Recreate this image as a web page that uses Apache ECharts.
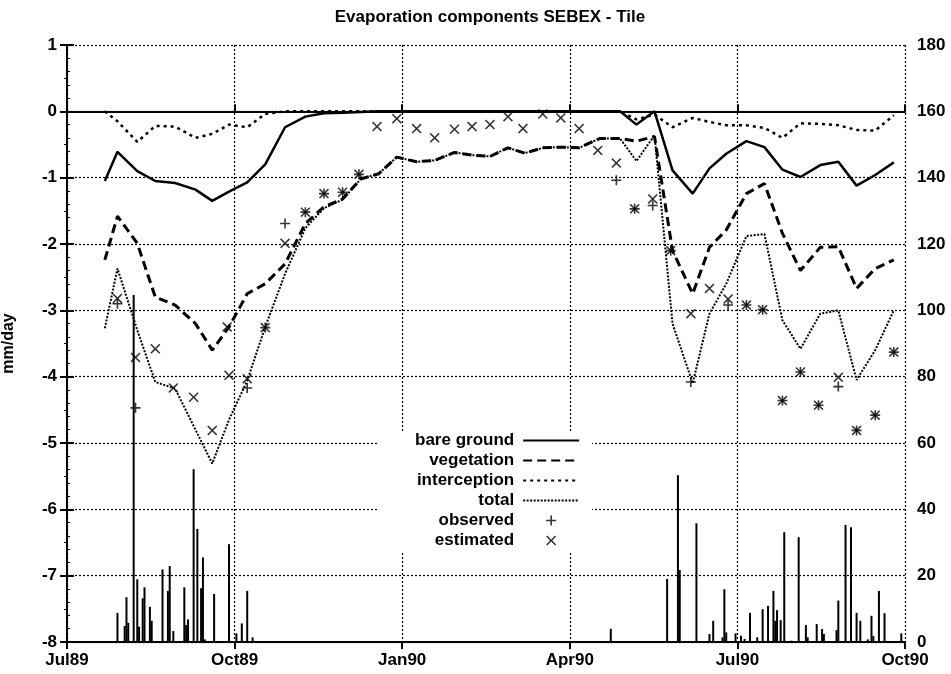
<!DOCTYPE html>
<html>
<head>
<meta charset="utf-8">
<title>Evaporation components SEBEX - Tile</title>
<script src="https://cdn.jsdelivr.net/npm/echarts@6.0.0/dist/echarts.min.js"></script>
<style>
  html, body { margin: 0; padding: 0; background: #fff; }
  #chart { width: 951px; height: 674px; }
</style>
</head>
<body>
<div id="chart"></div>
<script>
// x axis runs in months from 1 Jul 1989; one tick per quarter
var tickLabels = ['Jul89', 'Oct89', 'Jan90', 'Apr90', 'Jul90', 'Oct90'];

// model output, roughly every 10 days (mm/day)
var lineDates = ['1989-07-22','1989-07-29','1989-08-09','1989-08-19','1989-08-30','1989-09-10','1989-09-19','1989-09-28',
  '1989-10-08','1989-10-18','1989-10-29','1989-11-09','1989-11-19','1989-11-29','1989-12-09','1989-12-19','1989-12-29',
  '1990-01-09','1990-01-19','1990-01-30','1990-02-08','1990-02-17','1990-02-26','1990-03-07','1990-03-17','1990-03-27',
  '1990-04-06','1990-04-17','1990-04-28','1990-05-07','1990-05-17','1990-05-27','1990-06-07','1990-06-16','1990-06-25',
  '1990-07-06','1990-07-16','1990-07-26','1990-08-05','1990-08-16','1990-08-26','1990-09-05','1990-09-15','1990-09-25'];

var bareGround = [-1.05,-0.61,-0.90,-1.05,-1.08,-1.18,-1.35,-1.21,-1.07,-0.80,-0.24,-0.08,-0.03,-0.02,-0.01,
  0,0,0,0,0,0,0,0,0,0,0,0,0,0,-0.20,0,
  -0.89,-1.24,-0.86,-0.64,-0.45,-0.54,-0.88,-0.99,-0.81,-0.76,-1.12,-0.96,-0.77];

var vegetation = [-2.24,-1.58,-1.99,-2.80,-2.92,-3.20,-3.60,-3.25,-2.75,-2.60,
  -2.30,-1.69,-1.44,-1.32,-1.02,-0.94,-0.69,-0.76,-0.74,-0.62,
  -0.66,-0.68,-0.55,-0.63,-0.55,-0.54,-0.55,-0.41,-0.41,-0.45,
  -0.38,-2.10,-2.75,-2.05,-1.79,-1.24,-1.09,-1.84,-2.40,-2.05,
  -2.04,-2.67,-2.37,-2.24];

var interception = [0,-0.15,-0.46,-0.22,-0.23,-0.40,-0.34,-0.20,-0.24,-0.04,
  0,0,0,0,0,0,0,0,0,0,
  0,0,0,0,0,0,0,0,0,-0.12,
  -0.05,-0.24,-0.10,-0.16,-0.21,-0.21,-0.25,-0.40,-0.18,-0.19,
  -0.21,-0.28,-0.29,-0.06];

var total = [-3.27,-2.37,-3.30,-4.08,-4.18,-4.80,-5.31,-4.65,-4.06,-3.25,
  -2.45,-1.76,-1.46,-1.33,-1.02,-0.94,-0.69,-0.76,-0.74,-0.62,
  -0.66,-0.68,-0.55,-0.63,-0.55,-0.54,-0.55,-0.41,-0.41,-0.75,
  -0.36,-3.20,-4.10,-3.05,-2.60,-1.88,-1.85,-3.15,-3.58,-3.05,
  -3.00,-4.05,-3.60,-3.00];

// measured evaporation (mm/day)
var obsDates = ['1989-07-29','1989-08-08','1989-10-08','1989-10-18','1989-10-29','1989-11-09','1989-11-19','1989-11-29',
  '1989-12-08','1990-04-26','1990-05-06','1990-05-16','1990-05-26','1990-06-06','1990-06-26','1990-07-06','1990-07-15',
  '1990-07-26','1990-08-05','1990-08-15','1990-08-26','1990-09-05','1990-09-15','1990-09-25'];
var obsValues = [-2.90,-4.47,-4.17,-3.26,-1.69,-1.52,-1.24,-1.22,
  -0.95,-1.04,-1.47,-1.42,-2.10,-4.08,-2.92,-2.92,-2.99,
  -4.36,-3.93,-4.43,-4.15,-4.81,-4.58,-3.63];

var estDates = ['1989-07-29','1989-08-08','1989-08-19','1989-08-29','1989-09-09','1989-09-19','1989-09-27','1989-09-28',
  '1989-10-08','1989-10-18','1989-10-29','1989-11-09','1989-11-19','1989-11-29','1989-12-08','1989-12-18','1989-12-29',
  '1990-01-09','1990-01-19','1990-01-30','1990-02-08','1990-02-17','1990-02-26','1990-03-06','1990-03-17','1990-03-27',
  '1990-04-06','1990-04-16','1990-04-26','1990-05-06','1990-05-16','1990-05-26','1990-06-06','1990-06-16','1990-06-26',
  '1990-07-06','1990-07-15','1990-07-26','1990-08-05','1990-08-15','1990-08-26','1990-09-05','1990-09-15','1990-09-25'];
var estValues = [-2.82,-3.71,-3.58,-4.17,-4.31,-4.81,-3.25,-3.98,
  -4.03,-3.26,-1.99,-1.52,-1.24,-1.22,-0.95,-0.23,-0.11,
  -0.26,-0.40,-0.27,-0.23,-0.20,-0.08,-0.26,-0.04,-0.10,
  -0.26,-0.59,-0.78,-1.47,-1.32,-2.10,-3.05,-2.67,-2.83,
  -2.92,-2.99,-4.36,-3.93,-4.43,-4.01,-4.81,-4.58,-3.63];

// daily rainfall, right axis (mm)
var rainDates = ['1989-07-29','1989-08-02','1989-08-03','1989-08-04','1989-08-07','1989-08-09','1989-08-10','1989-08-12',
  '1989-08-13','1989-08-16','1989-08-17','1989-08-23','1989-08-26','1989-08-27','1989-08-29','1989-09-04','1989-09-05',
  '1989-09-06','1989-09-09','1989-09-11','1989-09-13','1989-09-14','1989-09-15','1989-09-20','1989-09-28','1989-10-02',
  '1989-10-05','1989-10-08','1989-10-11','1990-04-23','1990-05-24','1990-05-30','1990-05-31','1990-06-09','1990-06-16',
  '1990-06-18','1990-06-23','1990-06-24','1990-06-25','1990-06-30','1990-07-03','1990-07-05','1990-07-08','1990-07-12',
  '1990-07-15','1990-07-18','1990-07-21','1990-07-22','1990-07-23','1990-07-25','1990-07-27','1990-07-31','1990-08-04',
  '1990-08-08','1990-08-09','1990-08-14','1990-08-17','1990-08-18','1990-08-25','1990-08-26','1990-08-30','1990-09-02',
  '1990-09-05','1990-09-07','1990-09-11','1990-09-13','1990-09-14','1990-09-17','1990-09-20','1990-09-29'];
var rainValues = [8.8,4.8,13.5,5.8,104.6,18.9,4.6,13.2,
  16.5,10.6,6.4,21.9,15.4,22.9,3.3,16.5,5.1,
  6.8,52.1,34.1,16.2,25.5,0.8,14.5,29.5,2.6,
  5.6,15.4,1.4,4.0,19.0,50.3,21.7,35.8,2.4,
  6.4,1.4,15.9,2.9,2.6,1.9,0.9,8.8,1.4,
  9.9,10.9,15.4,6.4,9.6,6.6,33.1,0.4,31.6,
  5.1,1.4,5.4,3.9,2.4,3.6,12.5,35.3,34.6,
  8.8,6.4,0.8,7.9,1.8,15.4,8.7,2.6];

var FONT = '"Liberation Sans", Arial, Helvetica, sans-serif';
var PLUS = 'path://M4.2,0h1.6v10h-1.6zM0,4.2h10v1.6h-10z';
var CROSS = 'path://M1.1,0L5,3.9L8.9,0L10,1.1L6.1,5L10,8.9L8.9,10L5,6.1L1.1,10L0,8.9L3.9,5L0,1.1Z';

// months since 1 Jul 1989, fractional within the month
function toMonth(s) {
  var p = s.split('-').map(Number);
  var dim = new Date(p[0], p[1], 0).getDate();
  return (p[0] - 1989) * 12 + (p[1] - 7) + (p[2] - 1) / dim;
}

function pairs(dates, values) {
  return dates.map(function (d, i) { return [toMonth(d), values[i]]; });
}

function lineSeries(name, values, type, width) {
  return {
    name: name,
    type: 'line',
    data: pairs(lineDates, values),
    symbol: 'none',
    z: 3,
    lineStyle: { color: '#000', width: width, type: type },
    itemStyle: { color: '#000' }
  };
}

// legend entry for a line: keep the line, hide the little marker
function lineEntry(name) {
  return { name: name, itemStyle: { opacity: 0, color: 'transparent', borderWidth: 0 } };
}

var chart = echarts.init(document.getElementById('chart'), null, { renderer: 'canvas' });

var labelStyle = { color: '#000', fontSize: 17, fontWeight: 'bold', fontFamily: FONT };
var lineBlack = { color: '#000', width: 2 };

var option = {
  animation: false,
  backgroundColor: '#fff',
  title: {
    text: 'Evaporation components SEBEX - Tile',
    left: 485,
    top: 4,
    textAlign: 'center',
    textStyle: { color: '#000', fontSize: 17, fontWeight: 'bold', fontFamily: FONT }
  },
  legend: {
    orient: 'vertical',
    align: 'right',
    left: 377,
    top: 431,
    padding: [1, 12, 2, 38],
    backgroundColor: '#fff',
    itemWidth: 56,
    itemHeight: 10,
    itemGap: 3,
    symbolKeepAspect: true,
    selectedMode: false,
    textStyle: { color: '#000', fontSize: 17, fontWeight: 'bold', fontFamily: FONT, lineHeight: 17, padding: [0, 4, 0, 0] },
    data: [
      lineEntry('bare ground'),
      lineEntry('vegetation'),
      lineEntry('interception'),
      lineEntry('total'),
      'observed',
      'estimated'
    ]
  },
  grid: { left: 67, right: 46, top: 45, bottom: 32, containLabel: false, outerBoundsMode: 'none' },
  xAxis: [{
    type: 'value',
    min: 0,
    max: 15,
    interval: 3,
    position: 'bottom',
    axisLine: { show: true, lineStyle: lineBlack },
    axisTick: { show: true, inside: true, length: 7, lineStyle: lineBlack },
    axisLabel: {
      margin: 10,
      formatter: function (v) { return tickLabels[Math.round(v / 3)]; },
      color: labelStyle.color, fontSize: labelStyle.fontSize,
      fontWeight: labelStyle.fontWeight, fontFamily: labelStyle.fontFamily
    },
    splitLine: { show: true, lineStyle: { color: '#000', width: 1.2, type: [2, 2] } }
  }, {
    type: 'value',
    min: 0,
    max: 15,
    interval: 3,
    position: 'top',
    axisLine: { show: true, lineStyle: lineBlack },
    axisTick: { show: true, inside: true, length: 7, lineStyle: lineBlack },
    axisLabel: { show: false },
    splitLine: { show: false }
  }],
  yAxis: [{
    type: 'value',
    min: -8,
    max: 1,
    interval: 1,
    position: 'left',
    name: 'mm/day',
    nameLocation: 'middle',
    nameRotate: 90,
    nameGap: 50,
    nameTextStyle: { color: '#000', fontSize: 16, fontWeight: 'bold', fontFamily: FONT },
    axisLine: { show: true, lineStyle: lineBlack },
    axisTick: { show: true, inside: true, length: 7, lineStyle: lineBlack },
    minorTick: { show: true, splitNumber: 5, length: 3, lineStyle: { color: '#000', width: 1 } },
    axisLabel: {
      margin: 10,
      color: labelStyle.color, fontSize: labelStyle.fontSize,
      fontWeight: labelStyle.fontWeight, fontFamily: labelStyle.fontFamily
    },
    splitLine: { show: true, lineStyle: { color: '#000', width: 1.2, type: [2, 2] } }
  }, {
    type: 'value',
    min: 0,
    max: 180,
    interval: 20,
    position: 'right',
    axisLine: { show: true, lineStyle: lineBlack },
    axisTick: { show: true, inside: true, length: 7, lineStyle: lineBlack },
    minorTick: { show: true, splitNumber: 2, length: 3, lineStyle: { color: '#000', width: 1 } },
    axisLabel: {
      margin: 12,
      color: labelStyle.color, fontSize: labelStyle.fontSize,
      fontWeight: labelStyle.fontWeight, fontFamily: labelStyle.fontFamily
    },
    splitLine: { show: false }
  }],
  series: [
    {
      name: 'rain',
      type: 'bar',
      xAxisIndex: 0,
      yAxisIndex: 1,
      barWidth: 2,
      z: 1,
      itemStyle: { color: '#000' },
      data: pairs(rainDates, rainValues)
    },
    lineSeries('bare ground', bareGround, 'solid', 2.5),
    lineSeries('vegetation', vegetation, [9, 5], 3),
    lineSeries('interception', interception, [3, 4], 2.5),
    lineSeries('total', total, [2, 1.5], 2),
    {
      name: 'observed',
      type: 'scatter',
      symbol: PLUS,
      symbolSize: 10,
      z: 4,
      itemStyle: { color: '#000' },
      data: pairs(obsDates, obsValues)
    },
    {
      name: 'estimated',
      type: 'scatter',
      symbol: CROSS,
      symbolSize: 10,
      z: 4,
      itemStyle: { color: '#000' },
      data: pairs(estDates, estValues)
    }
  ]
};

chart.setOption(option);
</script>
</body>
</html>
